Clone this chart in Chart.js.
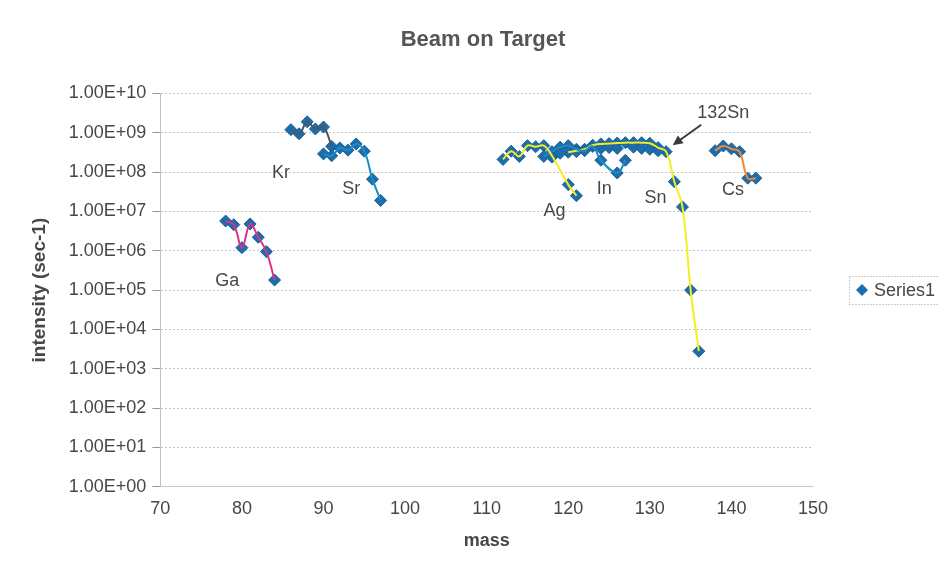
<!DOCTYPE html>
<html>
<head>
<meta charset="utf-8">
<title>Beam on Target</title>
<script src="https://cdn.jsdelivr.net/npm/chart.js@4.4.0/dist/chart.umd.min.js"></script>
<style>
  html, body { margin: 0; padding: 0; background: #fff; }
  #wrap { width: 938px; height: 564px; position: relative; }
</style>
</head>
<body>
<div id="wrap"><canvas id="beamChart"></canvas></div>
<script>
// mass number vs. beam intensity (sec-1), one pair of arrays per element
const gaMass = [78, 79, 80, 81, 82, 83, 84];
const gaIntensity = [5.7e6, 4.6e6, 1.2e6, 4.8e6, 2.2e6, 9.5e5, 1.8e5];

const krMass = [86, 87, 88, 89, 90, 91];
const krIntensity = [1.2e9, 9.4e8, 1.9e9, 1.25e9, 1.4e9, 4.5e8];

const srMass = [90, 91, 92, 93, 94, 95, 96, 97];
const srIntensity = [2.9e8, 2.6e8, 4.1e8, 3.6e8, 5.2e8, 3.4e8, 6.6e7, 1.9e7];

const agMass = [112, 113, 114, 115, 116, 117, 118, 120, 121];
const agIntensity = [2.1e8, 3.4e8, 2.5e8, 4.7e8, 4.4e8, 4.7e8, 2.6e8, 4.8e7, 2.5e7];

const inMass = [117, 118, 119, 120, 121, 122, 123, 124, 126, 127];
const inIntensity = [2.5e8, 3.3e8, 4.3e8, 4.7e8, 3.8e8, 3.5e8, 4.5e8, 2.0e8, 9.5e7, 2.0e8];

const snMass = [120, 121, 122, 123, 124, 125, 126, 127, 128, 129, 130, 131, 132, 133, 134, 135, 136];
const snIntensity = [3.2e8, 3.5e8, 3.8e8, 4.8e8, 5.2e8, 5.3e8, 5.5e8, 5.6e8, 5.6e8, 5.6e8, 5.4e8, 4.2e8, 3.3e8, 5.7e7, 1.3e7, 1.0e5, 2.8e3];

const csMass = [138, 139, 140, 141, 142, 143];
const csIntensity = [3.5e8, 4.6e8, 3.9e8, 3.3e8, 7.0e7, 7.0e7];

// second set of points measured in the 118-131 cluster
const extraMass = [118, 119, 121, 122, 124, 125, 126, 128, 129, 130, 131];
const extraIntensity = [2.4e8, 3.0e8, 3.3e8, 3.6e8, 4.0e8, 4.2e8, 4.0e8, 4.3e8, 4.0e8, 3.8e8, 3.5e8];

const xTicks = [70, 80, 90, 100, 110, 120, 130, 140, 150];
const yTicks = [1e0, 1e1, 1e2, 1e3, 1e4, 1e5, 1e6, 1e7, 1e8, 1e9, 1e10];

const pts = (m, v) => m.map((x, i) => ({ x: x, y: v[i] }));

const groups = [
    { name: 'Ga', mass: gaMass, val: gaIntensity, color: '#d8348f' },
    { name: 'Kr', mass: krMass, val: krIntensity, color: '#4b5864' },
    { name: 'Sr', mass: srMass, val: srIntensity, color: '#1a8cca' },
    { name: 'Ag', mass: agMass, val: agIntensity, color: '#f3ee22' },
    { name: 'In', mass: inMass, val: inIntensity, color: '#1a8cca' },
    { name: 'Sn', mass: snMass, val: snIntensity, color: '#f3ee22' },
    { name: 'Cs', mass: csMass, val: csIntensity, color: '#ef8a3c' }
];

const allPoints = groups.reduce((acc, g) => acc.concat(pts(g.mass, g.val)), [])
    .concat(pts(extraMass, extraIntensity));

const FONT = '"Liberation Sans", Arial, sans-serif';
const TEXT = '#474747';

// smoothed lines first so they are painted over the markers
const datasets = groups.map(g => ({
    label: g.name,
    data: pts(g.mass, g.val),
    showLine: true,
    borderColor: g.color,
    borderWidth: 2,
    tension: 0.4,
    pointRadius: 0,
    fill: false
}));
datasets.push({
    label: 'Series1',
    data: allPoints,
    showLine: false,
    pointStyle: 'rectRot',
    pointRadius: 6,
    pointBackgroundColor: '#1e6dab',
    pointBorderColor: '#1a5f96',
    pointBorderWidth: 1,
    backgroundColor: '#1e6dab'
});

// element labels and the 132Sn arrow, placed in data coordinates
const notes = [
    { text: 'Ga', mass: 78.2, value: 1.7e5 },
    { text: 'Kr', mass: 84.8, value: 9.5e7 },
    { text: 'Sr', mass: 93.4, value: 3.8e7 },
    { text: 'Ag', mass: 118.3, value: 1.0e7 },
    { text: 'In', mass: 124.4, value: 3.8e7 },
    { text: 'Sn', mass: 130.7, value: 2.2e7 },
    { text: 'Cs', mass: 140.2, value: 3.6e7 },
    { text: '132Sn', mass: 139.0, value: 3.1e9 }
];

const annotate = {
    id: 'annotate',
    afterDatasetsDraw(chart) {
        const { ctx, scales: { x, y } } = chart;
        ctx.save();
        ctx.font = '18px ' + FONT;
        ctx.fillStyle = TEXT;
        ctx.textAlign = 'center';
        ctx.textBaseline = 'middle';
        notes.forEach(n => ctx.fillText(n.text, x.getPixelForValue(n.mass), y.getPixelForValue(n.value)));

        // arrow pointing at 132Sn
        const x1 = x.getPixelForValue(136.3), y1 = y.getPixelForValue(1.6e9);
        const x2 = x.getPixelForValue(132.8), y2 = y.getPixelForValue(4.8e8);
        const ang = Math.atan2(y2 - y1, x2 - x1);
        ctx.strokeStyle = '#3a3a3a';
        ctx.fillStyle = '#3a3a3a';
        ctx.lineWidth = 2;
        ctx.beginPath();
        ctx.moveTo(x1, y1);
        ctx.lineTo(x2 - 6 * Math.cos(ang), y2 - 6 * Math.sin(ang));
        ctx.stroke();
        ctx.beginPath();
        ctx.moveTo(x2, y2);
        ctx.lineTo(x2 - 11 * Math.cos(ang - 0.45), y2 - 11 * Math.sin(ang - 0.45));
        ctx.lineTo(x2 - 11 * Math.cos(ang + 0.45), y2 - 11 * Math.sin(ang + 0.45));
        ctx.closePath();
        ctx.fill();

        // Excel-style legend box on the right
        const lx = chart.chartArea.right + 36, ly = 276;
        ctx.strokeStyle = '#9a9a9a';
        ctx.lineWidth = 1;
        ctx.setLineDash([1, 2]);
        ctx.strokeRect(lx + 0.5, ly + 0.5, 120, 28);
        ctx.setLineDash([]);
        ctx.fillStyle = '#1e6dab';
        ctx.beginPath();
        ctx.moveTo(lx + 13, ly + 8);
        ctx.lineTo(lx + 19, ly + 14);
        ctx.lineTo(lx + 13, ly + 20);
        ctx.lineTo(lx + 7, ly + 14);
        ctx.closePath();
        ctx.fill();
        ctx.fillStyle = TEXT;
        ctx.textAlign = 'left';
        ctx.font = '18px ' + FONT;
        ctx.fillText('Series1', lx + 25, ly + 15);
        ctx.restore();
    }
};

const fmtE = v => {
    const e = Math.round(Math.log10(v));
    return '1.00E' + (e < 0 ? '-' : '+') + String(Math.abs(e)).padStart(2, '0');
};

new Chart(document.getElementById('beamChart').getContext('2d'), {
    type: 'scatter',
    data: { datasets: datasets },
    plugins: [annotate],
    options: {
        responsive: true,
        maintainAspectRatio: false,
        animation: false,
        layout: { padding: { left: 28, right: 0, top: 0, bottom: 12 } },
        plugins: {
            legend: { display: false },
            tooltip: { enabled: false },
            title: {
                display: true,
                text: 'Beam on Target',
                color: '#555',
                font: { family: FONT, size: 22, weight: 'bold' },
                padding: { top: 27, bottom: 40 }
            }
        },
        scales: {
            x: {
                type: 'linear',
                min: 70,
                max: 150,
                afterBuildTicks: s => { s.ticks = xTicks.map(v => ({ value: v })); },
                grid: { display: false, drawTicks: false },
                border: { display: true, color: '#c8c8c8', dash: [2, 2] },
                ticks: { color: TEXT, font: { family: FONT, size: 18 }, padding: 11 },
                title: {
                    display: true,
                    text: 'mass',
                    color: TEXT,
                    font: { family: FONT, size: 18, weight: 'bold' },
                    padding: { top: 0, bottom: 0 }
                }
            },
            y: {
                type: 'logarithmic',
                min: 1,
                max: 1e10,
                afterBuildTicks: s => { s.ticks = yTicks.map(v => ({ value: v })); },
                grid: {
                    color: '#c4c4c4',
                    lineWidth: 1,
                    tickLength: 8,
                    tickColor: '#9a9a9a'
                },
                border: { display: true, color: '#c0c0c0', dash: [2, 2] },
                ticks: {
                    color: TEXT,
                    font: { family: FONT, size: 18 },
                    padding: 6,
                    callback: v => fmtE(v)
                },
                title: {
                    display: true,
                    text: 'intensity (sec-1)',
                    color: TEXT,
                    font: { family: FONT, size: 19, weight: 'bold' },
                    padding: { top: 0, bottom: 12 }
                }
            },
            // empty right-hand axis that reserves room for the legend box
            yRight: {
                type: 'linear',
                position: 'right',
                display: true,
                grid: { display: false, drawTicks: false },
                border: { display: false },
                ticks: { display: false },
                afterFit: s => { s.width = 125; }
            }
        }
    }
});
</script>
</body>
</html>
